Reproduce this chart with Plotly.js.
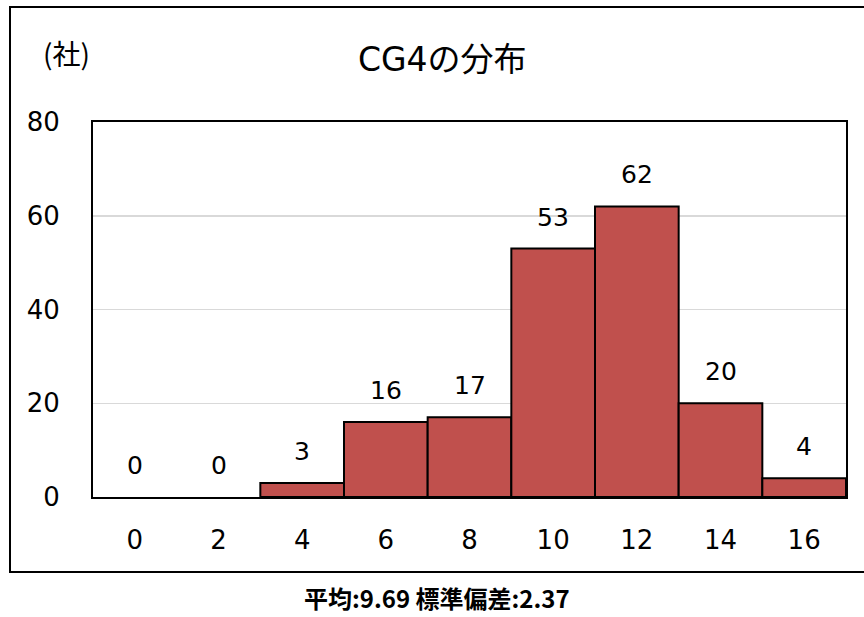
<!DOCTYPE html>
<html>
<head>
<meta charset="utf-8">
<script src="https://cdn.plot.ly/plotly-3.0.1.min.js"></script>
<style>html,body{margin:0;padding:0;background:#fff;}#chart{width:864px;height:617px;}</style>
</head>
<body>
<div id="chart"></div>
<script>
const categories = [0, 2, 4, 6, 8, 10, 12, 14, 16];
const counts = [0, 0, 3, 16, 17, 53, 62, 20, 4];
const yTicks = [0, 20, 40, 60, 80];
const titleText = 'CG4の分布';
const unitText = '(社)';
const statsText = '平均:9.69 標準偏差:2.37';

const L = 93, R = 846, T = 122, B = 497, W = 864, H = 617;
const pw = R - L, ph = B - T;
const px = v => (v - L) / pw;
const py = v => (B - v) / ph;

const digitFont = 'DejaVu Sans, Noto Sans CJK JP, sans-serif';
const cjkFont = 'Noto Sans CJK JP, DejaVu Sans, sans-serif';

const trace = {
  type: 'bar',
  x: categories,
  y: counts,
  width: 2,
  marker: {color: '#C0504D', line: {color: '#000', width: counts.map(v => v > 0 ? 2 : 0)}},
  hoverinfo: 'x+y'
};

const annotations = categories.map((c, i) => ({
  x: c, y: counts[i], xref: 'x', yref: 'y',
  text: String(counts[i]), showarrow: false,
  yanchor: 'bottom', yshift: 15,
  font: {family: digitFont, size: 25, color: '#000'}
}));
annotations.push({
  xref: 'paper', yref: 'paper', x: px(442), y: py(59),
  text: titleText, showarrow: false, xanchor: 'center', yanchor: 'middle',
  font: {family: digitFont, size: 33, color: '#000'}
});
annotations.push({
  xref: 'paper', yref: 'paper', x: px(66), y: py(53),
  text: unitText, showarrow: false, xanchor: 'center', yanchor: 'middle',
  font: {family: cjkFont, size: 28, color: '#000'}
});
annotations.push({
  xref: 'paper', yref: 'paper', x: px(437), y: py(616),
  text: statsText, showarrow: false, xanchor: 'center', yanchor: 'bottom', borderpad: 0,
  font: {family: cjkFont, size: 24, color: '#000', weight: 'bold'}
});

const layout = {
  width: W, height: H,
  margin: {l: L, r: W - R, t: T, b: H - B, pad: 0},
  paper_bgcolor: '#fff', plot_bgcolor: '#fff',
  showlegend: false,
  bargap: 0,
  xaxis: {
    range: [-1, 17], tickvals: categories, ticktext: categories.map(String),
    showgrid: false, zeroline: false,
    showline: true, mirror: true, linecolor: '#000', linewidth: 2,
    ticks: 'outside', ticklen: 19, tickcolor: 'rgba(0,0,0,0)',
    tickfont: {family: digitFont, size: 26, color: '#000'}, fixedrange: true
  },
  yaxis: {
    range: [0, 80], tickvals: yTicks,
    showgrid: true, gridcolor: '#d9d9d9', gridwidth: 1.5, zeroline: false,
    showline: true, mirror: true, linecolor: '#000', linewidth: 2,
    ticks: 'outside', ticklen: 26, tickcolor: 'rgba(0,0,0,0)',
    tickfont: {family: digitFont, size: 26, color: '#000'}, fixedrange: true
  },
  annotations: annotations,
  shapes: [{
    type: 'path', xref: 'paper', yref: 'paper',
    path: `M ${px(870)} ${py(7)} L ${px(10)} ${py(7)} L ${px(10)} ${py(572)} L ${px(870)} ${py(572)}`,
    line: {color: '#000', width: 2}, layer: 'above'
  }]
};

Plotly.newPlot('chart', [trace], layout, {displayModeBar: false, staticPlot: true});
</script>
</body>
</html>
